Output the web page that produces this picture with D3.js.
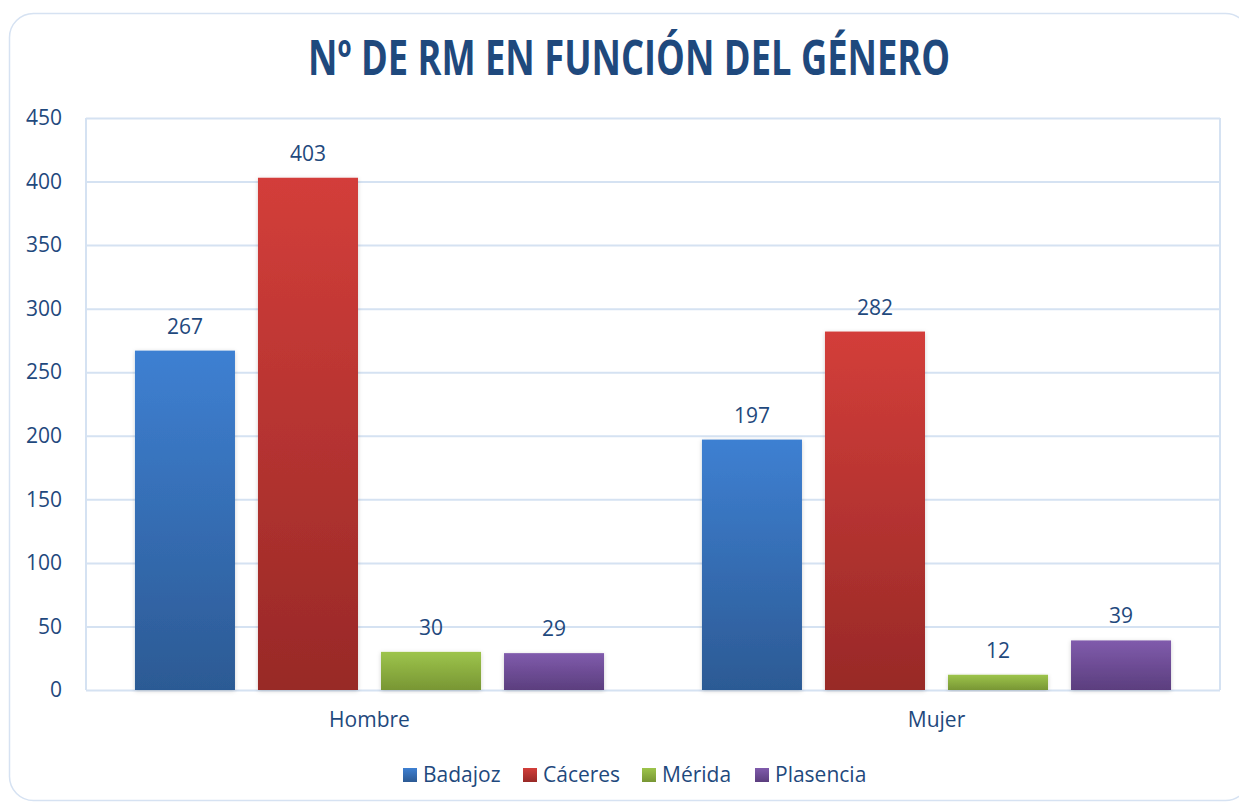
<!DOCTYPE html>
<html>
<head>
<meta charset="utf-8">
<script src="https://cdn.jsdelivr.net/npm/d3@7"></script>
<style>
  html, body { margin: 0; padding: 0; background: #fff; }
  svg { display: block; font-family: 'Open Sans', sans-serif; }
</style>
</head>
<body>
<div id="chart"></div>
<script>
const categories = ['Hombre', 'Mujer'];
const series = ['Badajoz', 'Cáceres', 'Mérida', 'Plasencia'];
const badajoz = [267, 197];
const caceres = [403, 282];
const merida = [30, 12];
const plasencia = [29, 39];
const yTicks = [0, 50, 100, 150, 200, 250, 300, 350, 400, 450];

const values = [badajoz, caceres, merida, plasencia];
const colors = [
    ['#3e80d2', '#2c5a94'],
    ['#d33e3a', '#982927'],
    ['#9dc44b', '#789634'],
    ['#805bac', '#5b3e7e']
];

const w = 1239;
const h = 803;
const plotLeft = 86, plotRight = 1220, plotTop = 118, plotBottom = 690;
const textColor = '#1f497d';
const gridColor = '#d5e2f2';

const svg = d3.select('#chart')
    .append('svg')
    .attr('width', w)
    .attr('height', h)

const defs = svg.append('defs');
series.forEach((s, i) => {
    const g = defs.append('linearGradient')
        .attr('id', 'grad' + i)
        .attr('x1', 0).attr('y1', 0).attr('x2', 0).attr('y2', 1);
    g.append('stop').attr('offset', '0%').attr('stop-color', colors[i][0]);
    g.append('stop').attr('offset', '100%').attr('stop-color', colors[i][1]);
});
const shadow = defs.append('filter').attr('id', 'shadow')
    .attr('x', '-10%').attr('y', '-10%').attr('width', '120%').attr('height', '120%');
shadow.append('feDropShadow')
    .attr('dx', 0).attr('dy', 1).attr('stdDeviation', 2)
    .attr('flood-color', '#000').attr('flood-opacity', 0.18);

// outer frame
svg.append('rect')
    .attr('x', 9.5)
    .attr('y', 13.5)
    .attr('width', 1240)
    .attr('height', 787)
    .attr('rx', 24)
    .attr('fill', '#fff')
    .attr('stroke', '#d6e2f2')
    .attr('stroke-width', 1.5)

svg.append('text')
    .attr('x', 629)
    .attr('y', 75)
    .attr('text-anchor', 'middle')
    .attr('font-size', 48)
    .attr('font-weight', 'bold')
    .attr('fill', textColor)
    .attr('textLength', 642)
    .attr('lengthAdjust', 'spacingAndGlyphs')
    .text('Nº DE RM EN FUNCIÓN DEL GÉNERO')

const x0 = d3.scaleBand()
    .domain(categories)
    .range([plotLeft, plotRight]);
const x1 = d3.scaleBand()
    .domain(series)
    .range([0, x0.bandwidth()])
    .paddingInner(23 / 123)
    .paddingOuter(0.398);
const y = d3.scaleLinear()
    .domain([0, 450])
    .range([plotBottom, plotTop]);

// grid
const grid = svg.append('g')
    .attr('transform', 'translate(' + plotLeft + ',0)')
    .call(d3.axisLeft(y).tickValues(yTicks).tickSize(-(plotRight - plotLeft)).tickFormat(''))
grid.select('.domain').remove();
grid.selectAll('line').attr('stroke', gridColor).attr('stroke-width', 2);

svg.append('line')
    .attr('x1', plotLeft).attr('x2', plotLeft).attr('y1', plotTop).attr('y2', plotBottom)
    .attr('stroke', gridColor).attr('stroke-width', 2)
svg.append('line')
    .attr('x1', plotRight).attr('x2', plotRight).attr('y1', plotTop).attr('y2', plotBottom)
    .attr('stroke', gridColor).attr('stroke-width', 2)

// y axis labels
const yAxis = svg.append('g')
    .attr('transform', 'translate(' + plotLeft + ',0)')
    .call(d3.axisLeft(y).tickValues(yTicks).tickSize(0).tickPadding(24))
yAxis.select('.domain').remove();
yAxis.selectAll('text')
    .attr('font-family', "'Open Sans', sans-serif")
    .attr('font-size', 21)
    .attr('fill', textColor)

// x axis labels
const xAxis = svg.append('g')
    .attr('transform', 'translate(0,' + plotBottom + ')')
    .call(d3.axisBottom(x0).tickSize(0).tickPadding(22))
xAxis.select('.domain').remove();
xAxis.selectAll('text')
    .attr('font-family', "'Open Sans', sans-serif")
    .attr('font-size', 21)
    .attr('fill', textColor)

// bars
series.forEach((s, i) => {
    const g = svg.append('g');
    g.selectAll('rect')
        .data(categories)
        .enter()
        .append('rect')
        .attr('x', d => x0(d) + x1(s))
        .attr('y', (d, j) => y(values[i][j]))
        .attr('width', x1.bandwidth())
        .attr('height', (d, j) => plotBottom - y(values[i][j]))
        .attr('fill', 'url(#grad' + i + ')')
        .attr('filter', 'url(#shadow)')
    g.selectAll('text')
        .data(categories)
        .enter()
        .append('text')
        .attr('x', d => x0(d) + x1(s) + x1.bandwidth() / 2)
        .attr('y', (d, j) => y(values[i][j]) - 17)
        .attr('text-anchor', 'middle')
        .attr('font-size', 21)
        .attr('fill', textColor)
        .text((d, j) => values[i][j])
});

// legend
const legendX = [403, 523, 642, 755];
const legend = svg.append('g');
series.forEach((s, i) => {
    legend.append('rect')
        .attr('x', legendX[i])
        .attr('y', 768)
        .attr('width', 14)
        .attr('height', 14)
        .attr('fill', 'url(#grad' + i + ')')
    legend.append('text')
        .attr('x', legendX[i] + 20)
        .attr('y', 782)
        .attr('font-size', 21)
        .attr('fill', textColor)
        .text(s)
});
</script>
</body>
</html>
